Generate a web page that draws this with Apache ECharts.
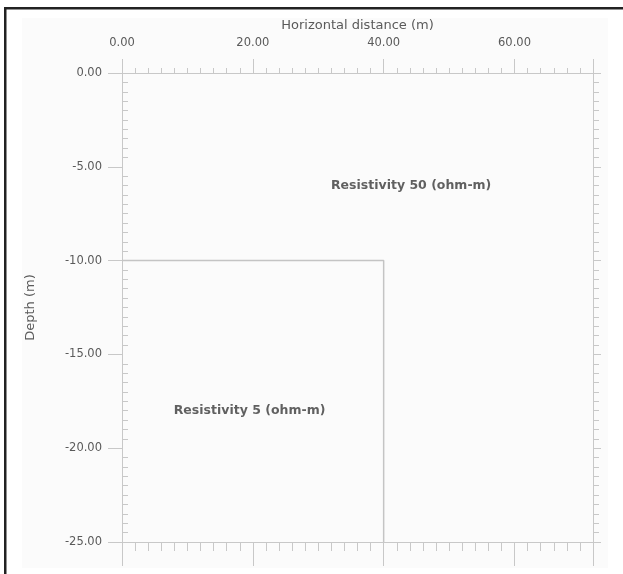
<!DOCTYPE html>
<html>
<head>
<meta charset="utf-8">
<script src="https://cdn.jsdelivr.net/npm/echarts@6/dist/echarts.min.js"></script>
<style>html,body{margin:0;padding:0;background:#fff}#c{width:623px;height:574px}</style>
</head>
<body>
<div id="c"></div>
<script>
var xTicks = [0, 20, 40, 60];
var yTicks = [0, -5, -10, -15, -20, -25];
var boundary = [[0, -10], [40, -10], [40, -25]];
var regionLabels = ["Resistivity 50 (ohm-m)", "Resistivity 5 (ohm-m)"];
var regionPos = [[44.2, -6], [19.5, -18]];

var chart = echarts.init(document.getElementById('c'), null, {renderer: 'canvas'});
var axisColor = '#c8c8c8';
var labelColor = '#5a5a5a';
var font = 'DejaVu Sans';
var fmt = function (v) { return v.toFixed(2); };

function baseAxis(extra) {
  var a = {
    type: 'value', splitLine: {show: false},
    axisLine: {show: true, onZero: false, lineStyle: {color: axisColor, width: 1}},
    axisLabel: {show: false}
  };
  for (var k in extra) a[k] = extra[k];
  return a;
}

var option = {
  backgroundColor: '#fff',
  animation: false,
  grid: {left: 122, top: 73, width: 471, height: 469},
  xAxis: [
    baseAxis({
      position: 'top', min: 0, max: 72, interval: 20,
      name: 'Horizontal distance (m)', nameLocation: 'middle', nameGap: 41,
      nameTextStyle: {color: labelColor, fontSize: 13, fontFamily: font},
      axisTick: {show: true, length: 14, lineStyle: {color: axisColor}},
      minorTick: {show: true, splitNumber: 10, length: 5, lineStyle: {color: axisColor}},
      axisLabel: {show: true, formatter: fmt, color: labelColor, fontSize: 11.5, margin: 24, showMaxLabel: false, fontFamily: font}
    }),
    baseAxis({
      position: 'bottom', min: 0, max: 72, interval: 20,
      axisTick: {show: true, length: 24, lineStyle: {color: axisColor}},
      minorTick: {show: true, splitNumber: 10, length: 9, lineStyle: {color: axisColor}}
    })
  ],
  yAxis: [
    baseAxis({
      position: 'left', min: -25, max: 0, interval: 5,
      name: 'Depth (m)', nameLocation: 'middle', nameGap: 85, nameRotate: 90,
      nameTextStyle: {color: labelColor, fontSize: 13, fontFamily: font},
      axisTick: {show: true, length: 14, lineStyle: {color: axisColor}},
      minorTick: {show: false},
      axisLabel: {show: true, formatter: fmt, color: labelColor, fontSize: 11.5, margin: 20, fontFamily: font}
    }),
    baseAxis({
      position: 'right', min: -25, max: 0, interval: 5,
      axisTick: {show: true, length: 8, lineStyle: {color: axisColor}},
      minorTick: {show: true, splitNumber: 10, length: 6, lineStyle: {color: axisColor}}
    }),
    baseAxis({
      position: 'left', min: -25, max: 0, interval: 5,
      axisLine: {show: false, onZero: false},
      axisTick: {show: false, inside: true},
      minorTick: {show: true, splitNumber: 10, length: 6, lineStyle: {color: axisColor}}
    })
  ],
  series: [
    {
      type: 'line', data: boundary, showSymbol: false, symbol: 'none',
      lineStyle: {color: '#c4c4c4', width: 1.5}, silent: true
    },
    {
      type: 'scatter', symbolSize: 0,
      data: regionPos.map(function (p, i) { return {value: p, name: regionLabels[i]}; }),
      label: {
        show: true, position: 'inside', formatter: function (p) { return p.name; },
        color: '#3a3a3a', fontSize: 12.5, fontWeight: 'bold', fontFamily: font
      }
    }
  ],
  graphic: [
    {type: 'rect', z: -10, shape: {x: 22, y: 18, width: 586, height: 550}, style: {fill: '#fbfbfb'}},
    {type: 'rect', shape: {x: 4, y: 7, width: 640, height: 2.5}, style: {fill: '#222'}},
    {type: 'rect', shape: {x: 4, y: 7, width: 2.5, height: 600}, style: {fill: '#222'}}
  ]
};
chart.setOption(option);
</script>
</body>
</html>
